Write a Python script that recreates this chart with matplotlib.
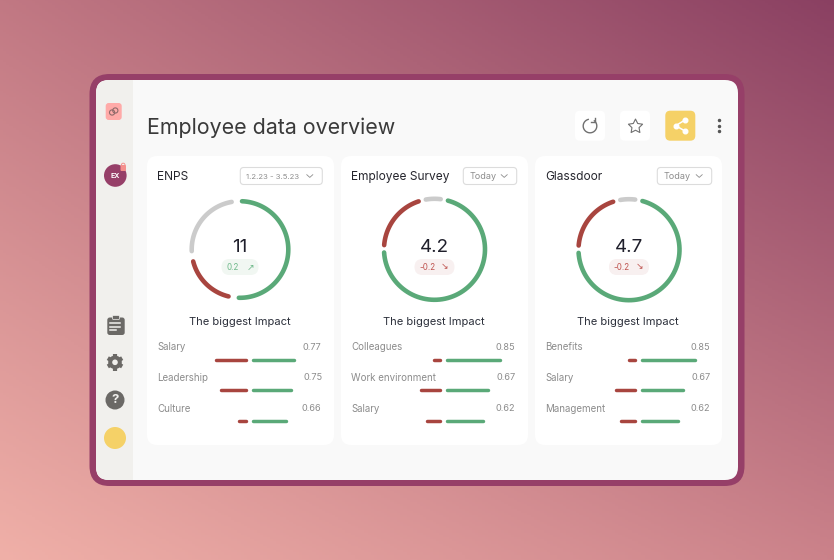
import numpy as np
import matplotlib
matplotlib.use('Agg')
import matplotlib.pyplot as plt
from matplotlib.patches import FancyBboxPatch, Circle, Rectangle

plt.rcParams['font.family'] = ['Inter', 'DejaVu Sans']

GREEN = '#5aa978'
RED = '#a8453f'
GRAY = '#cbcbcb'
PLUM = '#963f68'
YELLOW = '#f5d167'
ICON = '#6b6966'

title = 'Employee data overview'
card_names = ['ENPS', 'Employee Survey', 'Glassdoor']
card_ranges = ['1.2.23 - 3.5.23', 'Today', 'Today']
scores = ['11', '4.2', '4.7']
changes = ['0.2', '-0.2', '-0.2']

# ring segments in degrees, clockwise from the start angle
ring_start = [2.4, 15.4, 15.4]
ring_green = [179, 251, 251]
ring_red = [62, 67, 67]
ring_gray = [82, 17, 17]

impact_labels = [['Salary', 'Leadership', 'Culture'],
                 ['Colleagues', 'Work environment', 'Salary'],
                 ['Benefits', 'Salary', 'Management']]
impact_values = [['0.77', '0.75', '0.66'],
                 ['0.85', '0.67', '0.62'],
                 ['0.85', '0.67', '0.62']]
impact_neg = [[33, 28, 10], [9, 22, 16], [9, 22, 17]]
impact_pos = [[44, 41, 36], [56, 44, 39], [56, 44, 39]]


def box(ax, x0, y0, x1, y1, r, color, ec='none', lw=0, z=2):
    p = FancyBboxPatch((x0 + r, y0 + r), x1 - x0 - 2 * r, y1 - y0 - 2 * r,
                       boxstyle='round,pad=%f,rounding_size=%f' % (r, r),
                       fc=color, ec=ec, lw=lw, zorder=z)
    ax.add_patch(p)
    return p


def ring(ax, cx, cy, r, start, sweep, color):
    a = np.radians(np.linspace(start, start + sweep, 80))
    ax.plot(cx + r * np.sin(a), cy - r * np.cos(a), color=color, lw=3.3,
            solid_capstyle='round', zorder=4)


def draw_card(ax, i, x0, x1, cx, cy, r, drop_x0, drop_x1, val_x, mid):
    box(ax, x0, 156, x1, 445, 10, 'white')
    ax.text(x0 + 10.5, 176.8, card_names[i], fontsize=8.6, color='#26262e', va='center', zorder=5)

    box(ax, drop_x0, 167.5, drop_x1, 184.5, 3.5, 'white', ec='#dcdcdc', lw=0.8, z=3)
    size = 5.6 if i == 0 else 6.5
    ax.text(drop_x0 + 6, 176.6, card_ranges[i], fontsize=size, color='#8d8d8d', va='center', zorder=5)
    ax.plot([drop_x1 - 15.5, drop_x1 - 12.5, drop_x1 - 9.5], [174.7, 177.4, 174.7], color='#8d8d8d', lw=0.6, zorder=5)

    gap = (360 - ring_green[i] - ring_red[i] - ring_gray[i]) / 3
    a = ring_start[i]
    ring(ax, cx, cy, r, a, ring_green[i], GREEN)
    a += ring_green[i] + gap
    ring(ax, cx, cy, r, a, ring_red[i], RED)
    a += ring_red[i] + gap
    ring(ax, cx, cy, r, a, ring_gray[i], GRAY)

    ax.text(cx, 247.3, scores[i], fontsize=13.5, color='#1f1f2b', ha='center', va='center', zorder=5)
    up = not changes[i].startswith('-')
    box(ax, cx - 18.5 - (0 if up else 1.5), 259, cx + 18.5 + (0 if up else 1.5), 275, 8,
        '#f1f7f2' if up else '#f8f0f0', z=3)
    c = '#6fb98a' if up else '#bf5450'
    ax.text(cx - 7, 267, changes[i], fontsize=5.8, color=c, ha='center', va='center', zorder=5)
    ax.text(cx + 10, 267, '\u2197' if up else '\u2198', fontsize=6.5, color=c, ha='center', va='center',
            family='DejaVu Sans', zorder=5)

    ax.text((x0 + x1) / 2 - 0.8, 322, 'The biggest Impact', fontsize=8.0, color='#2b2f3a',
            ha='center', va='center', zorder=5)

    for k in range(3):
        y = 347.3 + k * 30.6
        ax.text(x0 + 10.3, y, impact_labels[i][k], fontsize=7.0, color='#8c8c8c', va='center', zorder=5)
        ax.text(val_x[k], y, impact_values[i][k], fontsize=6.6, color='#8c8c8c', ha='right', va='center', zorder=5)
        by = y + 12.5
        # lengths were read tip to tip, so take the round caps back off
        ax.plot([mid - 3.5, mid - 2 - impact_neg[i][k] + 1.5], [by, by], color=RED, lw=2.5,
                solid_capstyle='round', zorder=4)
        ax.plot([mid + 3.5, mid + 2 + impact_pos[i][k] - 1.5], [by, by], color=GREEN, lw=2.5,
                solid_capstyle='round', zorder=4)


def draw_sidebar(ax, panel):
    bar = Rectangle((96, 80), 37, 400, fc='#f1f0ed', ec='none', zorder=2)
    ax.add_patch(bar)
    bar.set_clip_path(panel)

    box(ax, 105.7, 103, 121.7, 120, 3, '#ffaaa8', z=3)
    for dx, dy in [(-1.6, 1), (1.6, -1)]:
        ax.add_patch(Circle((113.7 + dx, 111.5 + dy), 2.6, fc='none', ec='#8f6a6a', lw=0.8, zorder=4))

    ax.add_patch(Circle((115.3, 175.5), 11.3, fc=PLUM, ec='none', zorder=3))
    ax.text(115.3, 175.9, 'EX', fontsize=5, fontweight='bold', color='white', ha='center', va='center', zorder=5)
    box(ax, 120.5, 165, 126, 171, 1, '#f58f8c', z=4)
    ax.add_patch(Circle((123.2, 165), 1.8, fc='none', ec='#f58f8c', lw=0.7, zorder=4))

    # clipboard
    box(ax, 107.3, 317.5, 124.7, 335, 2.5, ICON, z=3)
    box(ax, 112.5, 315.5, 119.5, 319.5, 1, ICON, ec='#f1f0ed', lw=0.5, z=4)
    for y, w in [(323, 10), (326.5, 10), (330, 6)]:
        ax.plot([110.5, 110.5 + w], [y, y], color='#f1f0ed', lw=1.1, zorder=5)

    # gear
    ax.add_patch(Circle((115, 362.3), 6.8, fc=ICON, ec='none', zorder=3))
    ax.add_patch(Circle((115, 362.3), 2.8, fc='#f1f0ed', ec='none', zorder=5))
    for t in np.radians(np.arange(0, 360, 60) + 30):
        ax.plot([115, 115 + 8.3 * np.cos(t)], [362.3, 362.3 + 8.3 * np.sin(t)], color=ICON, lw=3.0,
                solid_capstyle='butt', zorder=4)

    # help
    ax.add_patch(Circle((115, 400), 9.5, fc=ICON, ec='none', zorder=3))
    ax.text(115, 400, '?', fontsize=9.5, fontweight='bold', color='#f1f0ed', ha='center', va='center', zorder=5)

    ax.add_patch(Circle((115, 438), 11, fc=YELLOW, ec='none', zorder=3))


def draw_header(ax):
    ax.text(147, 128, title, fontsize=15.4, color='#3a3a3a', va='center', zorder=5)

    box(ax, 575, 110.7, 605, 140.7, 5, 'white')
    box(ax, 620, 110.7, 650, 140.7, 5, 'white')
    box(ax, 665.3, 110.7, 695.3, 140.7, 5, YELLOW)

    # refresh icon
    a = np.radians(np.linspace(40, 345, 60))
    ax.plot(590 + 6.8 * np.sin(a), 126 - 6.8 * np.cos(a), color='#707070', lw=1.0, zorder=5)
    ax.plot([595.5, 595.5, 591.5], [117.5, 122, 122], color='#707070', lw=1.0, zorder=5)

    # star icon
    ax.scatter([635], [125.5], marker=(5, 1, 0), s=115, facecolor='white', edgecolor='#707070', lw=0.8, zorder=5)

    # share icon
    px = [685, 675.7, 685]
    py = [120, 125.7, 131]
    ax.plot(px, py, color='white', lw=1.1, zorder=5)
    ax.scatter(px, py, s=11, color='white', zorder=6)

    ax.scatter([719, 719, 719], [120, 125.7, 131], s=2.2, color='#555555', zorder=5)


fig = plt.figure(figsize=(8.34, 5.6), dpi=100)
ax = fig.add_axes([0, 0, 1, 1])

# background wash, corners
# extent runs half an image past each side so the pixel centres sit on the corners
corners = np.array([[[193, 120, 131], [138, 64, 98]],
                    [[240, 176, 168], [203, 130, 138]]], dtype=float) / 255
ax.imshow(corners, extent=(-417, 1251, 840, -280), interpolation='bilinear', aspect='auto', zorder=0)

box(ax, 89.5, 74, 744.5, 486, 20, PLUM, z=1)
panel = box(ax, 96, 80, 738, 480, 13, '#f9f9f9', z=1.5)

draw_sidebar(ax, panel)
draw_header(ax)

draw_card(ax, 0, 147, 334, 240, 249.5, 48.3, 240.3, 322.3, [321, 322.5, 321], 249.5)
draw_card(ax, 1, 341, 528, 434.5, 249.3, 50.5, 463.3, 516.7, [515.5, 515.5, 515.5], 444)
draw_card(ax, 2, 535, 722, 629, 249.7, 50.5, 657.3, 711.7, [710.5, 710.5, 710.5], 638.5)

ax.set_xlim(0, 834)
ax.set_ylim(560, 0)
ax.axis('off')
fig.savefig('out.png', dpi=100)
plt.close()
